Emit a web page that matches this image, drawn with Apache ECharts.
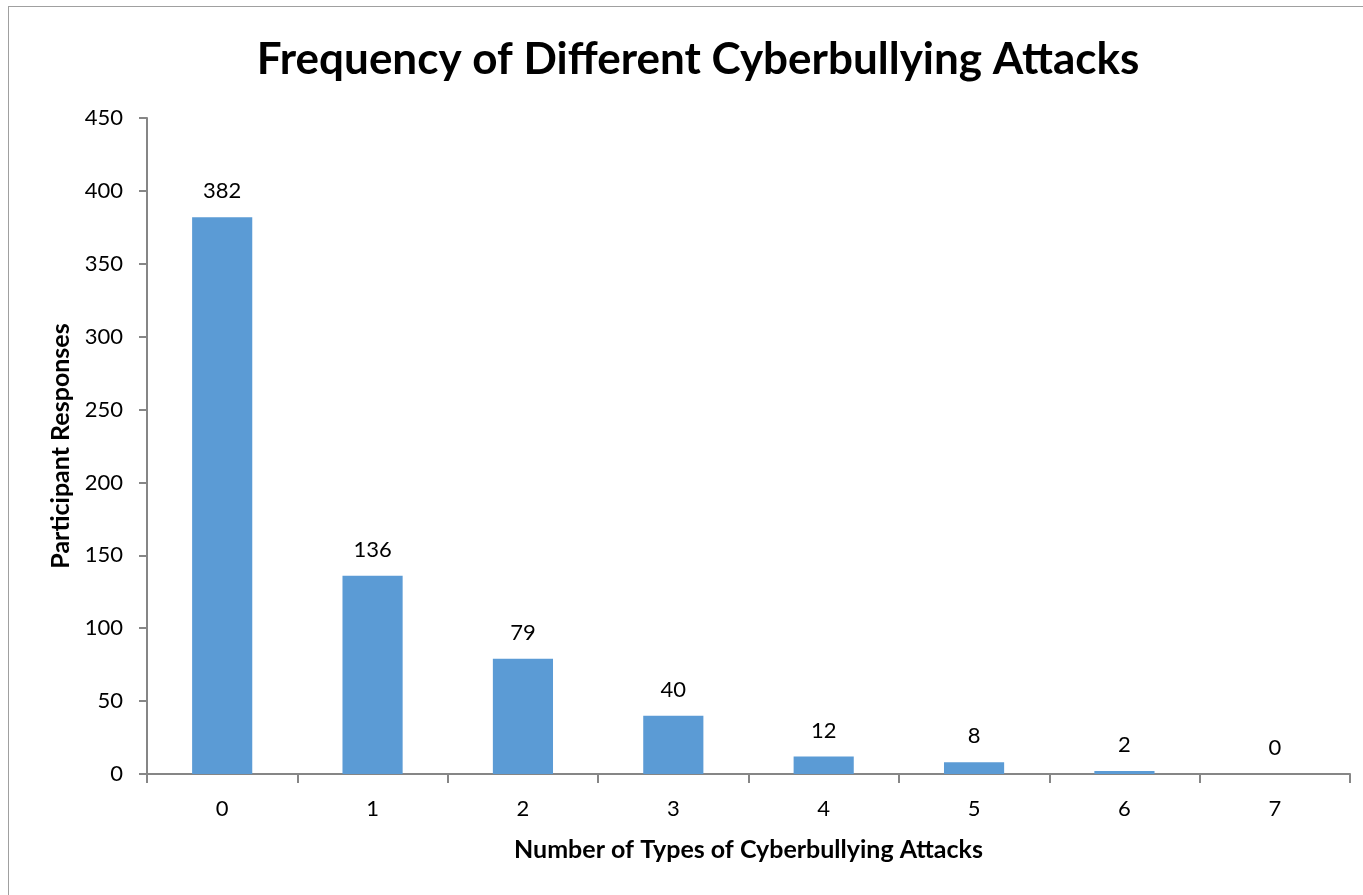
<!DOCTYPE html>
<html><head><meta charset="utf-8">
<script src="https://cdn.jsdelivr.net/npm/echarts@6/dist/echarts.min.js"></script>
<style>html,body{margin:0;padding:0;background:#fff}#c{width:1363px;height:895px}
#frame{position:absolute;left:8px;top:6px;width:1360px;height:894px;border:1px solid #a0a0a0;box-sizing:border-box;pointer-events:none}</style>
</head><body><div id="c"></div><div id="frame"></div>
<script>
const categories = ['0','1','2','3','4','5','6','7'];
const responses = [382, 136, 79, 40, 12, 8, 2, 0];
const yTicks = {min:0, max:450, interval:50};
const titleText = 'Frequency of Different Cyberbullying Attacks';
const xName = 'Number of Types of Cyberbullying Attacks';
const yName = 'Participant Responses';

const font = 'Lato, "Open Sans", sans-serif';
const axisColor = '#868686';
const chart = echarts.init(document.getElementById('c'), null, {renderer:'canvas'});
chart.setOption({
  animation:false,
  title:{text:titleText, left:693, top:33, textAlign:'center',
    textStyle:{fontFamily:font, fontWeight:'bold', fontSize:44, color:'#000'}},
  grid:{left:147, right:13, top:118, bottom:121},
  xAxis:{type:'category', data:categories, boundaryGap:true,
    axisLine:{lineStyle:{color:axisColor, width:2}},
    axisTick:{show:true, length:9, lineStyle:{color:axisColor, width:2}},
    axisLabel:{fontFamily:font, fontSize:22, color:'#000', margin:24},
    name:xName, nameLocation:'middle', nameGap:63,
    nameTextStyle:{fontFamily:font, fontWeight:'bold', fontSize:25, color:'#000'}},
  yAxis:{type:'value', min:yTicks.min, max:yTicks.max, interval:yTicks.interval,
    axisLine:{show:true, lineStyle:{color:axisColor, width:2}},
    axisTick:{show:true, length:8, lineStyle:{color:axisColor, width:2}},
    splitLine:{show:false},
    axisLabel:{fontFamily:font, fontSize:22, color:'#000', margin:24},
    name:yName, nameLocation:'middle', nameGap:74, nameRotate:90,
    nameTextStyle:{fontFamily:font, fontWeight:'bold', fontSize:25, color:'#000'}},
  series:[{type:'bar', data:responses, barWidth:'40%',
    itemStyle:{color:'#5b9bd5'},
    label:{show:true, position:'top', distance:15, fontFamily:font, fontSize:22, color:'#000'}}]
});
</script></body></html>
